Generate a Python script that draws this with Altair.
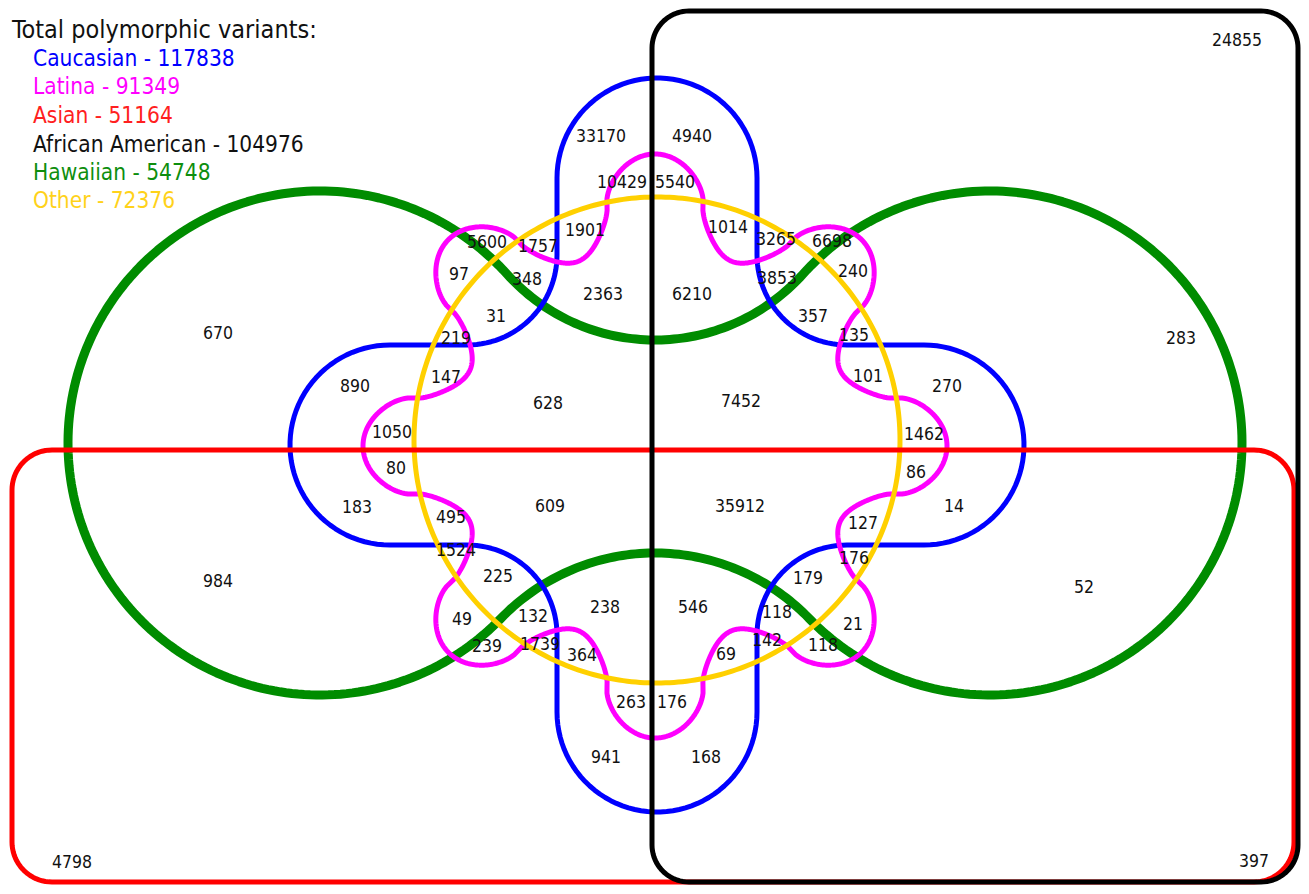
import math
import numpy as np
import pandas as pd
import altair as alt

# ---------------- data: region counts and where each count sits (reference pixel frame)
region_counts = [24855, 33170, 4940, 10429, 5540, 1901, 1014, 3265, 6698, 5600,
                 1757, 97, 348, 240, 3853, 2363, 6210, 31, 357, 670,
                 283, 219, 135, 890, 147, 101, 270, 628, 7452, 1050,
                 1462, 80, 86, 183, 609, 35912, 14, 495, 127, 1524,
                 176, 984, 225, 179, 52, 49, 132, 238, 546, 118,
                 21, 142, 118, 239, 1739, 364, 69, 263, 176, 941,
                 168, 4798, 397]
label_x = [1237, 601, 692, 622, 675, 585, 728, 776, 832, 487,
           538, 459, 527, 853, 777, 603, 692, 496, 813, 218,
           1181, 456, 854, 355, 446, 868, 947, 548, 741, 392,
           924, 396, 916, 357, 550, 740, 954, 451, 863, 456,
           854, 218, 498, 808, 1084, 462, 533, 605, 693, 777,
           853, 767, 823, 487, 540, 582, 726, 631, 672, 606,
           706, 72, 1254]
label_y = [41, 137, 137, 183, 183, 231, 228, 240, 242, 243,
           247, 275, 280, 272, 279, 295, 295, 317, 317, 334,
           339, 339, 336, 387, 378, 377, 387, 404, 402, 433,
           435, 469, 473, 508, 507, 507, 507, 518, 524, 551,
           559, 582, 577, 579, 588, 620, 617, 608, 608, 613,
           625, 641, 646, 647, 645, 656, 655, 703, 703, 758,
           758, 863, 862]

legend_text = ["Total polymorphic variants:", "Caucasian - 117838", "Latina - 91349",
               "Asian - 51164", "African American - 104976", "Hawaiian - 54748",
               "Other - 72376"]
legend_color = ["#111111", "#0000FF", "#FF00FF", "#FF2020", "#111111", "#0E8E0E", "#FFD21A"]
legend_size = [25, 22.5, 22.5, 22.5, 22.5, 22.5, 22.5]
legend_x = [12, 33, 33, 33, 33, 33, 33]
legend_y = [38, 66, 94, 123, 152, 180, 208]

# ---------------- shape geometry (reference pixel frame)
RED_BOX = (12, 450, 1294, 882, 40)
BLACK_BOX = (652, 11, 1298, 882, 37)
YELLOW = (657, 440, 243)
GREEN = dict(c1x=320, c2x=990, cy=443, r=252, top_neck=340, bottom_neck=553)
BLUE = dict(cx=657, cy=445, w=100, reach=367, fillet=90)
MAGENTA = dict(cx=655, cy=446, r0=246, amp=46, lobes=8, power=0.62)


def arc(cx, cy, r, a0, a1, n=60):
    t = np.linspace(a0, a1, n)
    return list(zip(cx + r * np.cos(t), cy + r * np.sin(t)))


def rounded_rect(x0, y0, x1, y1, r):
    p = []
    p += arc(x0 + r, y0 + r, r, math.pi, 1.5 * math.pi, 20)
    p += arc(x1 - r, y0 + r, r, 1.5 * math.pi, 2 * math.pi, 20)
    p += arc(x1 - r, y1 - r, r, 0, 0.5 * math.pi, 20)
    p += arc(x0 + r, y1 - r, r, 0.5 * math.pi, math.pi, 20)
    p.append(p[0])
    return p


def circle(cx, cy, r):
    return arc(cx, cy, r, 0, 2 * math.pi, 361)


def dumbbell(c1x, c2x, cy, r, top_neck, bottom_neck):
    h = (c2x - c1x) / 2.0
    mid = (c1x + c2x) / 2.0
    a = cy - top_neck
    rf1 = (h * h + a * a - r * r) / (2 * (r - a))
    f1y = top_neck - rf1
    b = bottom_neck - cy
    rf2 = (h * h + b * b - r * r) / (2 * (r - b))
    f2y = bottom_neck + rf2
    p = []
    p += arc(c1x, cy, r, math.atan2(f1y - cy, mid - c1x),
             math.atan2(f2y - cy, mid - c1x) - 2 * math.pi, 200)
    p += arc(mid, f2y, rf2, math.atan2(cy - f2y, c1x - mid),
             math.atan2(cy - f2y, c2x - mid), 80)
    p += arc(c2x, cy, r, math.atan2(f2y - cy, mid - c2x),
             math.atan2(f1y - cy, mid - c2x), 200)
    p += arc(mid, f1y, rf1, math.atan2(cy - f1y, c2x - mid),
             math.atan2(cy - f1y, c1x - mid), 80)
    p.append(p[0])
    return p


def plus_shape(cx, cy, w, reach, fillet):
    L = reach - w
    local = arc(0, -L, w, math.pi, 2 * math.pi, 50)
    local += arc(w + fillet, -w - fillet, fillet, math.pi, 0.5 * math.pi, 30)
    p = []
    for k in range(4):
        for (x, y) in local:
            for _ in range(k):
                x, y = -y, x
            p.append((cx + x, cy + y))
    p.append(p[0])
    return p


def wavy(cx, cy, r0, amp, lobes, power):
    t = np.linspace(0, 2 * math.pi, 1441)
    c = np.cos(lobes * t)
    g = np.sign(c) * np.abs(c) ** power
    r = r0 + amp * g
    return list(zip(cx + r * np.cos(t), cy + r * np.sin(t)))


def frame(points):
    arr = np.array(points)
    return pd.DataFrame({"x": arr[:, 0], "y": arr[:, 1], "i": np.arange(len(arr))})


X = lambda: alt.X("x:Q", scale=alt.Scale(domain=[8, 1301], nice=False, zero=False), axis=None)
Y = lambda: alt.Y("y:Q", scale=alt.Scale(domain=[8, 886], nice=False, zero=False, reverse=True), axis=None)


def outline(points, color, width):
    return alt.Chart(frame(points)).mark_line(
        color=color, strokeWidth=width, strokeJoin="round", strokeCap="round", clip=False
    ).encode(x=X(), y=Y(), order="i:Q")


layers = [
    outline(dumbbell(**GREEN), "#008C00", 9),
    outline(plus_shape(**BLUE), "#0000FF", 5),
    outline(wavy(**MAGENTA), "#FF00FF", 5),
    outline(circle(*YELLOW), "#FFD000", 5),
    outline(rounded_rect(*RED_BOX), "#FF0000", 5),
    outline(rounded_rect(*BLACK_BOX), "#000000", 5),
]

FONT = "DejaVu Sans Condensed, DejaVu Sans, sans-serif"

labels = pd.DataFrame({"x": label_x, "y": label_y, "t": [str(v) for v in region_counts]})
layers.append(
    alt.Chart(labels).mark_text(font=FONT, fontSize=17.5, color="#111111",
                                align="center", baseline="middle", clip=False)
    .encode(x=X(), y=Y(), text="t:N")
)

legend = pd.DataFrame({"x": legend_x, "y": legend_y, "t": legend_text,
                       "c": legend_color, "s": legend_size})
layers.append(
    alt.Chart(legend).mark_text(font=FONT, align="left", baseline="alphabetic", clip=False)
    .encode(x=X(), y=Y(), text="t:N",
            color=alt.Color("c:N", scale=None),
            size=alt.Size("s:Q", scale=None))
)

chart = alt.layer(*layers).properties(
    width=1293, height=878, padding=0, autosize=alt.AutoSizeParams(type="none"),
    background="white"
).configure_view(stroke=None)

chart.save("out.html", embed_options={"renderer": "svg", "actions": False})
